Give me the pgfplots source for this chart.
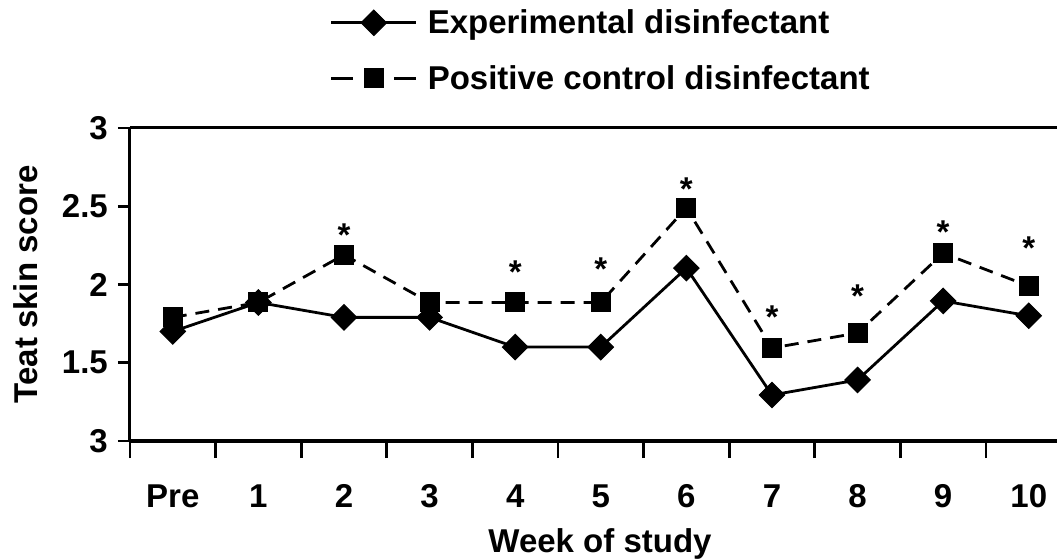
\documentclass[border=0pt]{standalone}
\usepackage{fontspec}
\setmainfont{Liberation Sans}
\usepackage{pgfplots}
\pgfplotsset{compat=1.18}
\pgfplotsset{
  mylegend/.style={legend image code/.code={\draw[mark repeat=2,mark phase=2,##1] plot coordinates {(0pt,0pt) (42.5pt,0pt) (85pt,0pt)};}},
  dashlegend/.style={legend image code/.code={\draw[mark repeat=2,mark phase=2,##1,dash pattern=on 22pt off 41pt] plot coordinates {(0pt,0pt) (42.5pt,0pt) (85pt,0pt)};}},
}
\newcommand{\bigf}{\fontsize{33}{40}\selectfont\bfseries}
\begin{document}
\begin{tikzpicture}[font=\bigf]
\path[use as bounding box] (-130pt,-118pt) rectangle (927pt,441pt);
\begin{axis}[
  at={(0pt,0pt)}, anchor=south west,
  scale only axis, width=927pt, height=313pt,
  xmin=-0.5, xmax=10.33, ymin=1, ymax=3,
  axis x line*=bottom, axis y line*=left,
  axis line style={line width=3pt, black},
  ytick={1,1.5,2,2.5,3}, yticklabels={3,1.5,2,2.5,3},
  xtick={0,...,10}, xticklabels={Pre,1,2,3,4,5,6,7,8,9,10},
  minor xtick={-0.5,0.5,...,9.5},
  tick align=outside,
  major tick length=12pt, minor tick length=17pt,
  every major x tick/.append style={draw=none},
  every minor x tick/.append style={line width=2.8pt, black},
  every major y tick/.append style={line width=2.8pt, black},
  tick label style={font=\bigf},
  xticklabel style={anchor=base, inner sep=0pt, yshift=-54pt},
  yticklabel style={anchor=east, inner sep=0pt, xshift=-10pt},
  clip=false,
  legend style={draw=none, fill=none, inner sep=0pt, outer sep=0pt,
    at={(axis description cs:0.2157,1.2476)}, anchor=west,
    font=\bigf, nodes={inner sep=0pt}, row sep=30pt, column sep=10pt},
  legend cell align=left,
]
\addplot[black, line width=2.8pt, mark=square*, mylegend,
  mark options={solid, rotate=45, line width=1pt, fill=black}, mark size=9pt]
  coordinates {(0,1.70) (1,1.885) (2,1.79) (3,1.79) (4,1.60) (5,1.60) (6,2.105) (7,1.294) (8,1.39) (9,1.895) (10,1.80)};
\addplot[black, line width=2.8pt, dash pattern=on 14pt off 9pt, mark=square*, dashlegend,
  mark options={solid, line width=1pt, fill=black}, mark size=9.5pt]
  coordinates {(0,1.79) (1,1.885) (2,2.19) (3,1.885) (4,1.885) (5,1.885) (6,2.49) (7,1.594) (8,1.69) (9,2.20) (10,1.99)};
\legend{Experimental disinfectant, Positive control disinfectant}
\addplot[draw=none, mark=none, nodes near coords={*}, nodes near coords align={center},
  every node near coord/.append style={font=\bigf, inner sep=0pt, yshift=-7.6pt}]
  coordinates {(2,2.361) (4,2.13) (5,2.144) (6,2.655) (7,1.837) (8,1.971) (9,2.38) (10,2.284)};
\node[rotate=90, anchor=base, font=\bigf] at ([xshift=-92pt]rel axis cs:0,0.5) {Teat skin score};
\node[anchor=base, font=\bigf] at ([yshift=-111pt]rel axis cs:0.507,0) {Week of study};
\draw[line width=3pt, black] (rel axis cs:0,1) -- (rel axis cs:1,1);
\end{axis}
\end{tikzpicture}
\end{document}
